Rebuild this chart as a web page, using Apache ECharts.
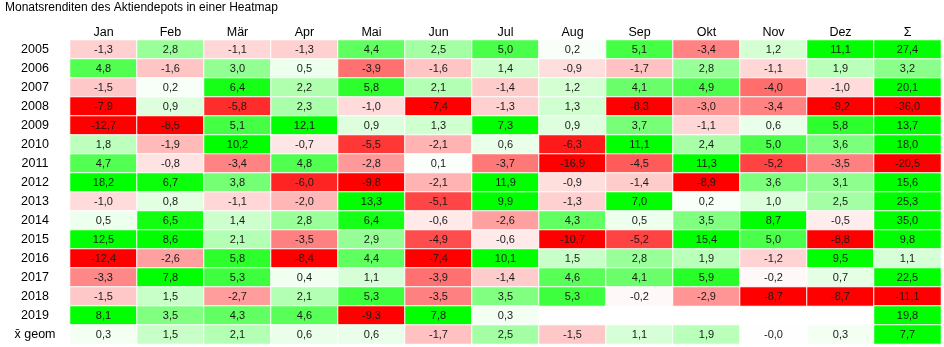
<!DOCTYPE html>
<html>
<head>
<meta charset="utf-8">
<style>
  html, body { margin: 0; padding: 0; background: #fff; }
  #chart { width: 944px; height: 347px; }
</style>
<script src="https://cdn.jsdelivr.net/npm/echarts@6/dist/echarts.min.js"></script>
</head>
<body>
<div id="chart"></div>
<script>
// Column and row headings
const months = ['Jan', 'Feb', 'Mär', 'Apr', 'Mai', 'Jun', 'Jul', 'Aug', 'Sep', 'Okt', 'Nov', 'Dez', 'Σ'];
const rows = ['2005', '2006', '2007', '2008', '2009', '2010', '2011', '2012', '2013', '2014',
              '2015', '2016', '2017', '2018', '2019', 'x̄ geom'];

// Monthly returns in percent, one array per column (rows 2005..2019, then geometric mean)
const jan = [-1.3, 4.8, -1.5, -7.9, -12.7, 1.8, 4.7, 18.2, -1.0, 0.5, 12.5, -12.4, -3.3, -1.5, 8.1, 0.3];
const feb = [2.8, -1.6, 0.2, 0.9, -8.5, -1.9, -0.8, 6.7, 0.8, 6.5, 8.6, -2.6, 7.8, 1.5, 3.5, 1.5];
const mar = [-1.1, 3.0, 6.4, -5.8, 5.1, 10.2, -3.4, 3.8, -1.1, 1.4, 2.1, 5.8, 5.3, -2.7, 4.3, 2.1];
const apr = [-1.3, 0.5, 2.2, 2.3, 12.1, -0.7, 4.8, -6.0, -2.0, 2.8, -3.5, -8.4, 0.4, 2.1, 4.6, 0.6];
const mai = [4.4, -3.9, 5.8, -1.0, 0.9, -5.5, -2.8, -9.8, 13.3, 6.4, 2.9, 4.4, 1.1, 5.3, -9.3, 0.6];
const jun = [2.5, -1.6, 2.1, -7.4, 1.3, -2.1, 0.1, -2.1, -5.1, -0.6, -4.9, -7.4, -3.9, -3.5, 7.8, -1.7];
const jul = [5.0, 1.4, -1.4, -1.3, 7.3, 0.6, -3.7, 11.9, 9.9, -2.6, -0.6, 10.1, -1.4, 3.5, 0.3, 2.5];
const aug = [0.2, -0.9, 1.2, 1.3, 0.9, -6.3, -16.9, -0.9, -1.3, 4.3, -10.7, 1.5, 4.6, 5.3, null, -1.5];
const sep = [5.1, -1.7, 4.1, -8.3, 3.7, 11.1, -4.5, -1.4, 7.0, 0.5, -5.2, 2.8, 4.1, -0.2, null, 1.1];
const okt = [-3.4, 2.8, 4.9, -3.0, -1.1, 2.4, 11.3, -8.9, 0.2, 3.5, 15.4, 1.9, 5.9, -2.9, null, 1.9];
const nov = [1.2, -1.1, -4.0, -3.4, 0.6, 5.0, -5.2, 3.6, 1.0, 8.7, 5.0, -1.2, -0.2, -8.7, null, -0.04];
const dez = [11.1, 1.9, -1.0, -9.2, 5.8, 3.6, -3.5, 3.1, 2.5, -0.5, -8.8, 9.5, 0.7, -8.7, null, 0.3];
const sum = [27.4, 3.2, 20.1, -36.0, 13.7, 18.0, -20.5, 15.6, 25.3, 35.0, 9.8, 1.1, 22.5, -11.1, 19.8, 7.7];

const columns = [jan, feb, mar, apr, mai, jun, jul, aug, sep, okt, nov, dez, sum];

// Heatmap triples [column, row, value]; empty months are skipped
const cells = [];
columns.forEach((col, x) => {
  col.forEach((v, y) => {
    if (v !== null) cells.push([x, y, v]);
  });
});

// German number format with one decimal, keeping the sign of small negatives
function fmt(v) {
  const s = Math.abs(v).toFixed(1).replace('.', ',');
  return (v < 0 ? '-' : '') + s;
}

const font = 'Liberation Sans, Helvetica, Arial, sans-serif';
const chart = echarts.init(document.getElementById('chart'), null, { renderer: 'canvas' });

chart.setOption({
  animation: false,
  backgroundColor: '#fff',
  title: {
    text: 'Monatsrenditen des Aktiendepots in einer Heatmap',
    left: 5,
    top: 2,
    padding: 0,
    textStyle: { fontFamily: font, fontSize: 12, fontWeight: 'normal', color: '#000' }
  },
  grid: { left: 70, right: 3, top: 40, bottom: 3 },
  xAxis: {
    type: 'category',
    position: 'top',
    data: months,
    axisLine: { show: false },
    axisTick: { show: false },
    splitLine: { show: false },
    axisLabel: { fontFamily: font, fontSize: 12.5, color: '#000', margin: 1 }
  },
  yAxis: {
    type: 'category',
    inverse: true,
    data: rows,
    axisLine: { show: false },
    axisTick: { show: false },
    splitLine: { show: false },
    axisLabel: { fontFamily: font, fontSize: 12.5, color: '#000', align: 'center', margin: 35 }
  },
  visualMap: {
    show: false,
    min: -7,
    max: 7,
    dimension: 2,
    inRange: { color: ['#ff0000', '#ffffff', '#00ff00'] }
  },
  series: [{
    type: 'heatmap',
    data: cells,
    itemStyle: { borderColor: '#fff', borderWidth: 1 },
    label: {
      show: true,
      fontFamily: font,
      fontSize: 11,
      color: '#1a1a1a',
      formatter: p => fmt(p.value[2])
    },
    emphasis: { disabled: true }
  }]
});
</script>
</body>
</html>
